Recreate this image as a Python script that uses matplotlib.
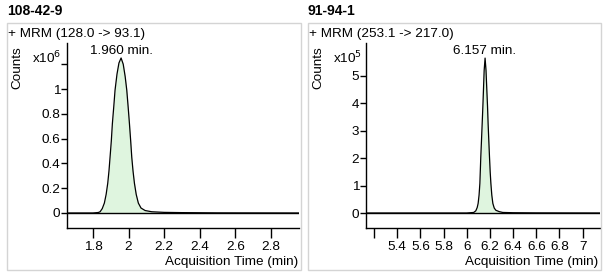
import matplotlib
matplotlib.use("Agg")
import matplotlib.pyplot as plt
from matplotlib.patches import Rectangle

plt.rcParams['font.family'] = ['Liberation Sans', 'DejaVu Sans']
plt.rcParams['font.size'] = 9.7

# panel 1: 108-42-9, counts in units of 1e6
t1 = [1.65, 1.80, 1.83, 1.84, 1.852, 1.864, 1.874, 1.883, 1.890, 1.896, 1.903, 1.909,
      1.917, 1.924, 1.935, 1.946, 1.958, 1.970, 1.981, 1.990, 1.998, 2.005, 2.012,
      2.018, 2.025, 2.033, 2.043, 2.055, 2.070, 2.093, 2.13, 2.20, 2.30, 2.50, 2.96]
v1 = [0.0, 0.0, 0.004, 0.01, 0.035, 0.08, 0.15, 0.24, 0.34, 0.45, 0.58, 0.72,
      0.86, 0.99, 1.12, 1.21, 1.25, 1.20, 1.10, 0.99, 0.85, 0.72, 0.58,
      0.45, 0.34, 0.24, 0.15, 0.08, 0.04, 0.02, 0.01, 0.005, 0.003, 0.001, 0.0]

# panel 2: 91-94-1, counts in units of 1e5
t2 = [5.13, 6.00, 6.06, 6.078, 6.090, 6.098, 6.106, 6.113, 6.121, 6.127, 6.133,
      6.139, 6.144, 6.150, 6.158, 6.166, 6.173, 6.179, 6.184, 6.190, 6.196, 6.202,
      6.208, 6.216, 6.225, 6.237, 6.251, 6.28, 6.31, 6.40, 6.60, 7.15]
v2 = [0.0, 0.0, 0.02, 0.08, 0.2, 0.35, 0.65, 1.08, 2.05, 2.65, 3.27,
      3.90, 4.49, 5.20, 5.65, 5.20, 4.49, 3.90, 3.27, 2.65, 2.05, 1.50,
      1.08, 0.65, 0.35, 0.18, 0.10, 0.05, 0.02, 0.01, 0.004, 0.0]

panels = [
    dict(title='108-42-9', mrm='+ MRM (128.0 -> 93.1)', t=t1, v=v1, exp='6',
         peak='1.960 min.', peak_t=1.960, xlim=(1.654, 2.958), ylim=(-0.121, 1.371),
         xticks=[1.8, 2.0, 2.2, 2.4, 2.6, 2.8], xlabels=['1.8', '2', '2.2', '2.4', '2.6', '2.8'],
         yticks=[0, 0.2, 0.4, 0.6, 0.8, 1.0, 1.2], ylabels=['0', '0.2', '0.4', '0.6', '0.8', '1', ''],
         box=(7, 301), ax_x=(67, 299)),
    dict(title='91-94-1', mrm='+ MRM (253.1 -> 217.0)', t=t2, v=v2, exp='5',
         peak='6.157 min.', peak_t=6.157, xlim=(5.13, 7.15), ylim=(-0.547, 6.2),
         xticks=[5.2, 5.4, 5.6, 5.8, 6.0, 6.2, 6.4, 6.6, 6.8, 7.0],
         xlabels=['', '5.4', '5.6', '5.8', '6', '6.2', '6.4', '6.6', '6.8', '7'],
         yticks=[0, 1, 2, 3, 4, 5], ylabels=['0', '1', '2', '3', '4', '5'],
         box=(308, 601), ax_x=(366, 600)),
]

W, H = 606, 275
fig = plt.figure(figsize=(W / 100, H / 100), dpi=100)

for p in panels:
    bx0, bx1 = p['box']
    fig.patches.append(Rectangle((bx0 / W, 1 - 270 / H), (bx1 - bx0) / W, 247 / H,
                                 transform=fig.transFigure, fill=False,
                                 edgecolor='#d4d4d4', linewidth=1))
    fig.text(bx0 / W, 1 - 11 / H, p['title'], fontweight='bold', fontsize=10,
             va='center', ha='left')
    fig.text((bx0 + 1) / W, 1 - 34 / H, p['mrm'], va='center', ha='left')

    ax0, ax1 = p['ax_x']
    ax = fig.add_axes([ax0 / W, 1 - 228 / H, (ax1 - ax0) / W, 185 / H])
    ax.fill_between(p['t'], p['v'], 0, color='#dff5df', linewidth=0)
    ax.plot(p['t'], p['v'], color='black', linewidth=0.9)
    ax.axhline(0, color='black', linewidth=1)
    ax.set_xlim(p['xlim'])
    ax.set_ylim(p['ylim'])
    ax.set_xticks(p['xticks'])
    ax.set_xticklabels(p['xlabels'])
    ax.set_yticks(p['yticks'])
    ax.set_yticklabels(p['ylabels'])
    for s in ['top', 'right']:
        ax.spines[s].set_visible(False)
    for s in ['left', 'bottom']:
        ax.spines[s].set_linewidth(1)
    ax.tick_params(axis='x', length=7, width=1, pad=2)
    ax.tick_params(axis='y', length=4, width=1, pad=1)
    ax.patch.set_alpha(0)

    pk = max(p['v'])
    ax.annotate(p['peak'], (p['peak_t'], pk), xytext=(0, 1), textcoords='offset points',
                ha='center', va='bottom')
    fig.text((bx1 - 3) / W, 1 - 262 / H, 'Acquisition Time (min)', ha='right', va='center')
    fig.text((bx0 + 10) / W, 1 - 68 / H, 'Counts', rotation=90, ha='center', va='center')
    fig.text((bx0 + 25) / W, 1 - 58 / H, 'x10$^{%s}$' % p['exp'], ha='left', va='center')

fig.savefig('out.png', dpi=100)
